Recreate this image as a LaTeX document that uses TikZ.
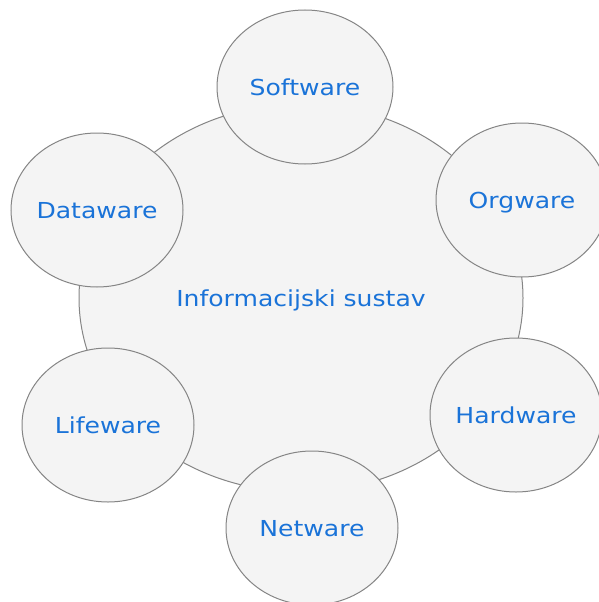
\documentclass[tikz,border=0pt]{standalone}
\usepackage{fontspec}
\setmainfont[FakeStretch=1.14]{DejaVu Sans}
\usepackage{xcolor}
\usetikzlibrary{shapes.geometric,positioning}
\definecolor{partfill}{HTML}{F4F4F4}
\definecolor{partline}{HTML}{858585}
\definecolor{parttext}{HTML}{1A73D8}
\tikzset{
        part/.style={ellipse, draw=partline, fill=partfill, line width=1pt,
                inner sep=0pt, minimum width=172pt, minimum height=154pt,
                text=parttext, font=\fontsize{22}{26}\selectfont,
                text height=16pt, text depth=0pt},
        whole/.style={part, minimum width=444pt, minimum height=388pt}
}
\begin{document}
\begin{tikzpicture}[x=1pt,y=-1pt]
        \useasboundingbox (0,0) rectangle (598,602);
        \node[whole] (sustav) at (301,298) {Informacijski sustav};
        \node[part, minimum width=176pt] (software) at (305,87) {Software};
        \node[part] (orgware) at (522,200) {Orgware};
        \node[part] (hardware) at (516,415) {Hardware};
        \node[part] (netware) at (312,528) {Netware};
        \node[part] (lifeware) at (108,425) {Lifeware};
        \node[part] (dataware) at (97,210) {Dataware};
\end{tikzpicture}
\end{document}
